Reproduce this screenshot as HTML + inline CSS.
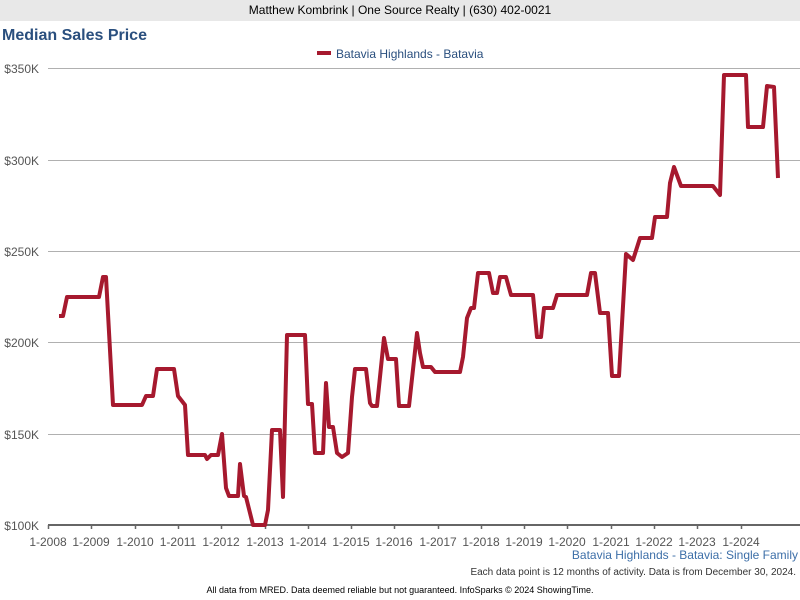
<!DOCTYPE html>
<html><head><meta charset="utf-8"><style>
body{margin:0;width:800px;height:600px;background:#fff;font-family:"Liberation Sans",sans-serif;overflow:hidden;position:relative}
.hdr{position:absolute;left:0;top:0;width:800px;height:21px;background:#e8e8e8;text-align:center;font-size:12px;line-height:21px;color:#000}
.t{position:absolute;left:2px;top:27px;font-size:16px;font-weight:bold;color:#2a4f7e}
</style></head><body>
<div class="hdr">Matthew Kombrink | One Source Realty | (630) 402-0021</div>
<div class="t">Median Sales Price</div>
<svg width="800" height="600" style="position:absolute;left:0;top:0" font-family="Liberation Sans, sans-serif">
<line x1="317" y1="53" x2="331" y2="53" stroke="#a6192e" stroke-width="4"/>
<text x="336" y="58" font-size="12" fill="#2a4f7e">Batavia Highlands - Batavia</text>
<g stroke="#b0b0b0" stroke-width="1">
<line x1="48" y1="68.5" x2="800" y2="68.5"/>
<line x1="48" y1="160.5" x2="800" y2="160.5"/>
<line x1="48" y1="251.5" x2="800" y2="251.5"/>
<line x1="48" y1="342.5" x2="800" y2="342.5"/>
<line x1="48" y1="434.5" x2="800" y2="434.5"/>
</g>
<line x1="48" y1="525" x2="800" y2="525" stroke="#666" stroke-width="2"/>
<g stroke="#666" stroke-width="1.5">
<line x1="48.5" y1="525" x2="48.5" y2="529"/><line x1="91.5" y1="525" x2="91.5" y2="529"/><line x1="135.5" y1="525" x2="135.5" y2="529"/><line x1="178.5" y1="525" x2="178.5" y2="529"/><line x1="221.5" y1="525" x2="221.5" y2="529"/><line x1="265.5" y1="525" x2="265.5" y2="529"/><line x1="308.5" y1="525" x2="308.5" y2="529"/><line x1="351.5" y1="525" x2="351.5" y2="529"/><line x1="394.5" y1="525" x2="394.5" y2="529"/><line x1="438.5" y1="525" x2="438.5" y2="529"/><line x1="481.5" y1="525" x2="481.5" y2="529"/><line x1="524.5" y1="525" x2="524.5" y2="529"/><line x1="567.5" y1="525" x2="567.5" y2="529"/><line x1="611.5" y1="525" x2="611.5" y2="529"/><line x1="654.5" y1="525" x2="654.5" y2="529"/><line x1="697.5" y1="525" x2="697.5" y2="529"/><line x1="741.5" y1="525" x2="741.5" y2="529"/>
</g>
<g font-size="12" fill="#555" text-anchor="end">
<text x="39" y="73">$350K</text><text x="39" y="165">$300K</text><text x="39" y="256">$250K</text><text x="39" y="347">$200K</text><text x="39" y="439">$150K</text><text x="39" y="530">$100K</text>
</g>
<g font-size="12" fill="#555" text-anchor="middle">
<text x="48" y="546">1-2008</text><text x="91" y="546">1-2009</text><text x="135" y="546">1-2010</text><text x="178" y="546">1-2011</text><text x="221" y="546">1-2012</text><text x="265" y="546">1-2013</text><text x="308" y="546">1-2014</text><text x="351" y="546">1-2015</text><text x="394" y="546">1-2016</text><text x="438" y="546">1-2017</text><text x="481" y="546">1-2018</text><text x="524" y="546">1-2019</text><text x="567" y="546">1-2020</text><text x="611" y="546">1-2021</text><text x="654" y="546">1-2022</text><text x="697" y="546">1-2023</text><text x="741" y="546">1-2024</text>
</g>
<polyline fill="none" stroke="#a6192e" stroke-width="4" stroke-linejoin="round" points="59,316 63,316 67,297 99,297 103,277 106,277 113,405 142,405 146,396 153,396 157,369 174,369 178,396 185,405 188,455 205,455 207,459 211,455 218,455 222,434 226,488 229,496 238,496 240,464 244,496 246,497 253,525 265,525 268,510 272,430 280,430 283,497 287,335 305,335 308,404 312,404 315,453 323,453 326,383 329,427 333,427 337,453 342,457 348,453 352,397 355,369 366,369 370,403 372,406 377,406 384,338 388,359 396,359 399,406 409,406 417,333 420,353 423,367 431,367 435,372 460,372 463,357 467,318 471,308 474,308 478,273 489,273 493,293 497,293 500,277 506,277 511,295 533,295 537,337 541,337 544,308 553,308 557,295 587,295 591,273 595,273 600,313 608,313 612,376 619,376 626,254 633,260 640,238 652,238 655,217 667,217 670,183 674,167 681,186 713,186 720,195 724,75 746,75 748,127 763,127 767,86 774,87 778,178"/>
<text x="798" y="559" font-size="12" fill="#3d6fa8" text-anchor="end">Batavia Highlands - Batavia: Single Family</text>
<text x="796" y="575" font-size="10" fill="#333" text-anchor="end">Each data point is 12 months of activity. Data is from December 30, 2024.</text>
<text x="400" y="593" font-size="9" fill="#000" text-anchor="middle">All data from MRED. Data deemed reliable but not guaranteed. InfoSparks © 2024 ShowingTime.</text>
</svg>
</body></html>
